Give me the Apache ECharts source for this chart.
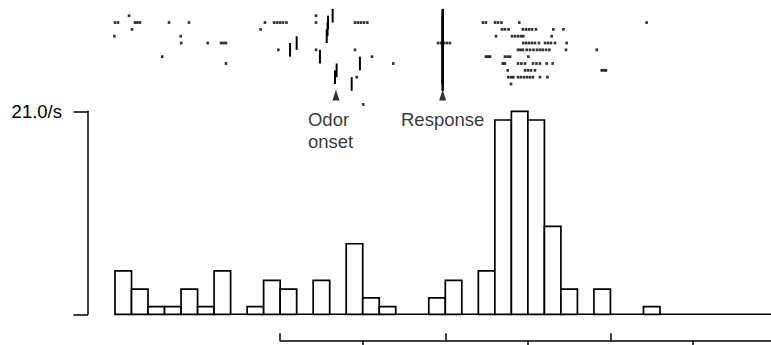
<!DOCTYPE html>
<html><head><meta charset="utf-8">
<script src="https://cdn.jsdelivr.net/npm/echarts@6/dist/echarts.min.js"></script>
<style>html,body{margin:0;padding:0;background:#fff}#c{width:771px;height:345px}</style>
</head><body><div id="c"></div>
<script>
// ---------- DATA ----------
// Histogram (time in s relative to response; 0.1 s bins)
const binStart = -2.0;
const binWidth = 0.1;
const rates = [4.5,2.6,0.8,0.8,2.6,0.8,4.5,0,0.8,3.5,2.6,0,3.5,0,7.3,1.7,0.8,0,0,1.7,
               3.5,0,4.5,20.1,21.0,20.1,9.1,2.6,0,2.6,0,0,0.8,0,0,0,0,0,0,0];
const rateMax = 21.0;
const rateLabel = '21.0/s';

// Raster spikes: [time s, trial row]
const spikeRow0 = [-1.915,-0.783];
const spikeRow1 = [-2.000,-1.982,-1.879,-1.864,-1.849,-1.673,-1.552,-1.092,-1.037,-1.019,-1.001,-0.983,-0.962,-0.783,-0.547,-0.529,-0.511,-0.492,-0.472,0.228,0.246,0.301,0.319,0.340,0.448,1.219];
const spikeRow2 = [-1.897,-1.118,0.343,0.361,0.383,0.470,0.489,0.507,0.525,0.549,0.654,0.715];
const spikeRow3 = [-2.004,-1.602,0.307,0.404,0.422,0.440,0.458,0.472,0.644];
const spikeRow4 = [-1.599,-1.439,-1.358,-1.343,-1.328,-0.044,-0.026,-0.008,0.010,0.028,0.472,0.489,0.507,0.525,0.543,0.567,0.604,0.622,0.640,0.664,0.735];
const spikeRow5 = [-1.011,-0.783,-0.547,0.440,0.455,0.470,0.493,0.513,0.534,0.555,0.573,0.590,0.610,0.630,0.731,0.917];
const spikeRow6 = [-1.714,-0.444,0.246,0.259,0.271,0.361,0.377,0.392,0.503];
const spikeRow7 = [-1.328,-0.315,0.348,0.361,0.440,0.461,0.483,0.531,0.552,0.573,0.614,0.650];
const spikeRow8 = [0.378,0.483,0.501,0.519,0.543,0.947,0.961,0.973];
const spikeRow9 = [-0.536,0.381,0.398,0.412,0.440,0.458,0.477,0.495,0.513,0.531,0.573,0.618];
const spikeRow10 = [0.398];
const spikeRow13 = [-0.497];
const spikeRows = [[0,spikeRow0],[1,spikeRow1],[2,spikeRow2],[3,spikeRow3],[4,spikeRow4],[5,spikeRow5],
                   [6,spikeRow6],[7,spikeRow7],[8,spikeRow8],[9,spikeRow9],[10,spikeRow10],[13,spikeRow13]];

// Odor onset per trial (rows 0..10) and response time
const onsetTimes = [-0.682,-0.710,-0.713,-0.718,-0.900,-0.940,-0.759,-0.517,-0.658,-0.668,-0.567];
const responseTime = -0.016;
const responseRows = 11;
const meanOnset = -0.662;
const arrowRow = 11.6;
const onsetText = 'Odor\nonset';
const responseText = 'Response';

// Time scale bar ticks (s)
const scaleMajor = [-1, 0, 1];
const scaleMinor = [-0.5, 0.5, 1.5];

// ---------- LAYOUT ----------
const W = 771;
const zeroPx = 445.3, pxPerSec = 165.15, axisPx = 88;
const xMin = (axisPx - zeroPx) / pxPerSec;
const xMax = (W - zeroPx) / pxPerSec;
const rowPx = 6.83, row0Px = 15.7;
const rowMin = -1, rowMax = 14;
const FONT = 'Liberation Sans';
const FS = 18.5;

const spikeData = [];
spikeRows.forEach(([r, arr]) => arr.forEach(t => spikeData.push([t, r])));
const histData = [];
rates.forEach((v, i) => { if (v > 0) histData.push([binStart + i * binWidth, v]); });

const chart = echarts.init(document.getElementById('c'), null, {renderer: 'svg'});
const black = '#000';
const textStyle = {color: black, fontFamily: FONT, fontSize: FS, lineHeight: 22};
chart.setOption({
  animation: false,
  backgroundColor: '#fff',
  grid: [
    {left: axisPx, right: 0, top: 111.3, bottom: 30.7},
    {left: axisPx, right: 0, top: row0Px + rowMin * rowPx, height: (rowMax - rowMin) * rowPx},
    {left: zeroPx + scaleMajor[0] * pxPerSec, right: 0, top: 320, bottom: 4.2}
  ],
  xAxis: [
    {gridIndex: 0, type: 'value', min: xMin, max: xMax, show: false},
    {gridIndex: 1, type: 'value', min: xMin, max: xMax, show: false},
    {gridIndex: 2, type: 'value', min: scaleMajor[0], max: xMax, position: 'bottom',
      axisLine: {show: true, onZero: false, lineStyle: {color: black, width: 1.5}},
      axisTick: {show: true, inside: true, length: 7.5, customValues: scaleMajor, lineStyle: {color: black, width: 1.5}},
      axisLabel: {show: false, customValues: scaleMajor}, splitLine: {show: false}},
    {gridIndex: 2, type: 'value', min: scaleMajor[0], max: xMax, position: 'bottom',
      axisLine: {show: false, onZero: false},
      axisTick: {show: true, inside: false, length: 7, customValues: scaleMinor, lineStyle: {color: black, width: 1.5}},
      axisLabel: {show: false, customValues: scaleMinor}, splitLine: {show: false}}
  ],
  yAxis: [
    {gridIndex: 0, type: 'value', min: 0, max: rateMax, interval: rateMax, position: 'left',
      axisLine: {show: true, onZero: false, lineStyle: {color: black, width: 1.5}},
      axisTick: {show: true, length: 14.5, lineStyle: {color: black, width: 1.5}},
      axisLabel: Object.assign({show: true, margin: 26, formatter: v => (v === rateMax ? rateLabel : ''),
        padding: [5, 0, 0, 0]}, textStyle),
      splitLine: {show: false}},
    {gridIndex: 1, type: 'value', min: rowMin, max: rowMax, inverse: true, show: false},
    {gridIndex: 2, type: 'value', show: false}
  ],
  series: [
    {type: 'line', xAxisIndex: 0, yAxisIndex: 0, data: [[binStart, 0], [xMax, 0]],
      symbol: 'none', lineStyle: {color: black, width: 1.5}, silent: true, z: 1},
    {type: 'custom', xAxisIndex: 0, yAxisIndex: 0, data: histData, z: 2,
      renderItem: (params, api) => {
        const x0 = api.value(0), v = api.value(1);
        const p0 = api.coord([x0, v]), p1 = api.coord([x0 + binWidth, 0]);
        return {type: 'rect', shape: {x: p0[0], y: p0[1], width: p1[0] - p0[0], height: p1[1] - p0[1]},
          style: {fill: '#fff', stroke: black, lineWidth: 1.7}};
      }},
    {type: 'scatter', xAxisIndex: 1, yAxisIndex: 1, data: spikeData, symbol: 'rect',
      symbolSize: [2.6, 2.8], itemStyle: {color: black}, silent: true},
    {type: 'custom', xAxisIndex: 1, yAxisIndex: 1, data: onsetTimes.map((t, i) => [t, i]),
      renderItem: (params, api) => {
        const t = api.value(0), r = api.value(1);
        const a = api.coord([t, r - 1]), b = api.coord([t, r + 1]);
        return {type: 'line', shape: {x1: a[0], y1: a[1], x2: b[0], y2: b[1]}, style: {stroke: black, lineWidth: 2}};
      }},
    {type: 'custom', xAxisIndex: 1, yAxisIndex: 1,
      data: Array.from({length: responseRows}, (_, i) => [responseTime, i]),
      renderItem: (params, api) => {
        const t = api.value(0), r = api.value(1);
        const a = api.coord([t, r - 1]), b = api.coord([t, r + 1]);
        return {type: 'line', shape: {x1: a[0], y1: a[1], x2: b[0], y2: b[1]}, style: {stroke: black, lineWidth: 2.6}};
      }},
    {type: 'scatter', xAxisIndex: 1, yAxisIndex: 1, symbol: 'triangle', symbolSize: [7, 11],
      itemStyle: {color: black}, silent: true,
      data: [
        {value: [meanOnset, arrowRow],
          label: Object.assign({show: true, formatter: onsetText, position: 'bottom', distance: 8, align: 'left', offset: [-28, 0]}, textStyle)},
        {value: [responseTime, arrowRow],
          label: Object.assign({show: true, formatter: responseText, position: 'bottom', distance: 8, align: 'center'}, textStyle)}
      ]}
  ]
});
</script></body></html>
